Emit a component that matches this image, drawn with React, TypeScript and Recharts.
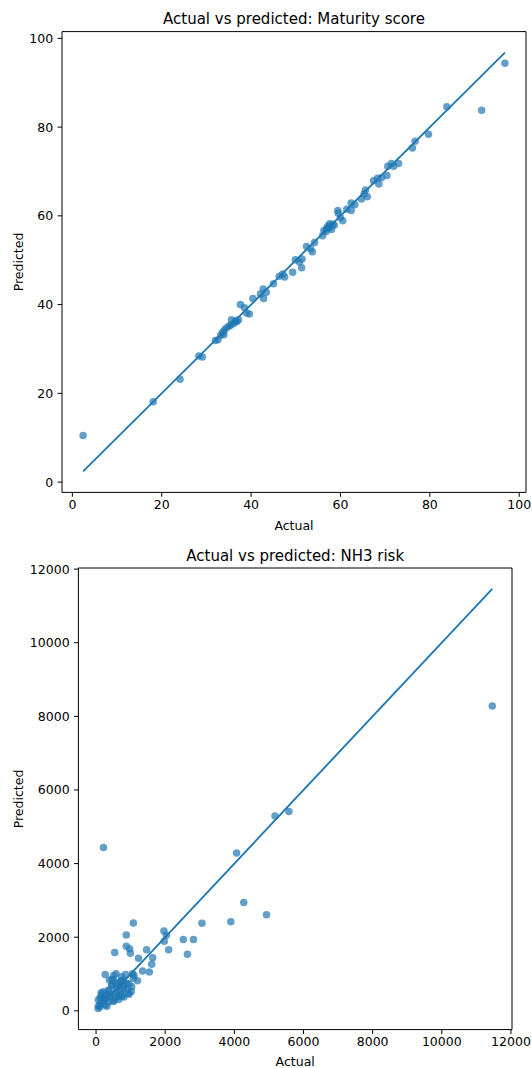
import React from 'react';
import { ScatterChart, Scatter, XAxis, YAxis, ReferenceLine, ReferenceArea } from 'recharts';

// Chart 1: Maturity score
const matActual = [2.4, 18.1, 24.1, 28.3, 29.1, 32.0, 32.6, 33.2, 33.6, 33.9, 34.0, 34.5, 35.1, 35.5, 35.6, 36.2, 36.5, 36.8, 37.2, 37.6, 38.5, 39.0, 39.6, 40.4, 42.1, 42.7, 42.8, 43.4, 45.0, 46.3, 47.1, 47.5, 49.3, 49.9, 50.8, 51.3, 51.4, 52.4, 53.3, 53.7, 54.2, 56.0, 56.3, 56.8, 56.9, 57.2, 57.5, 58.0, 57.6, 58.3, 58.6, 59.4, 59.5, 60.0, 60.5, 61.4, 62.4, 62.4, 63.2, 64.7, 65.3, 65.6, 66.0, 67.4, 68.3, 68.6, 69.2, 70.4, 70.6, 71.4, 71.9, 73.0, 76.1, 76.7, 79.7, 83.8, 91.6, 96.8];
const matPredicted = [10.5, 18.1, 23.2, 28.4, 28.2, 31.9, 32.1, 33.1, 33.7, 33.2, 34.2, 34.8, 35.2, 35.4, 36.6, 35.8, 36.3, 36.2, 36.6, 40.0, 39.3, 38.1, 37.9, 41.4, 42.4, 43.5, 41.4, 42.8, 44.7, 46.4, 46.9, 46.2, 47.3, 50.1, 49.6, 48.3, 50.3, 53.1, 52.6, 51.9, 54.0, 55.5, 56.7, 56.5, 57.2, 57.7, 57.3, 56.9, 58.2, 58.1, 57.9, 61.2, 60.6, 59.6, 58.9, 61.5, 62.9, 61.2, 62.5, 63.8, 65.0, 65.8, 64.3, 67.9, 68.5, 67.2, 68.6, 69.1, 71.2, 71.8, 71.2, 71.8, 75.3, 76.8, 78.4, 84.6, 83.8, 94.4];
const matLine = [2.4, 96.8];
const matTicks = [0, 20, 40, 60, 80, 100];

// Chart 2: NH3 risk
const nh3Actual = [11460, 216, 5175, 5578, 4065, 4272, 4930, 3899, 3064, 2818, 2524, 2642, 1964, 2033, 1974, 2101, 1080, 874, 874, 972, 992, 540, 1463, 1227, 1640, 1610, 1542, 1345, 1198, 265, 579, 511, 854, 1050, 1100, 462, 1021, 953, 707, 147, 118, 69, 60, 314, 167, 265, 412, 560, 520, 658, 756, 609, 383, 462, 677, 805, 903, 285, 216, 363, 805, 736, 579, 953, 118,
  116, 67, 164, 212, 309, 357, 453, 502, 598, 694, 743, 791, 887, 936, 646, 502, 260, 405, 791, 1032, 1080, 550, 386, 212, 743];
const nh3Predicted = [8283, 4435, 5292, 5413, 4286, 2944, 2609, 2422, 2376, 1938, 1938, 1537, 2171, 2050, 1891, 1658, 2385, 2059, 1752, 1686, 1565, 1584, 1658, 1425, 1444, 1267, 1053, 1081, 820, 988, 1006, 960, 988, 1006, 969, 848, 522, 447, 540, 494, 354, 121, 60, 121, 261, 354, 401, 354, 280, 307, 447, 540, 540, 680, 727, 680, 587, 447, 307, 242, 373, 820, 745, 727, 186,
  114, 296, 432, 521, 342, 567, 703, 839, 657, 793, 929, 614, 749, 478, 386, 250, 160, 432, 839, 657, 885, 478, 839, 296, 386];
const nh3Line = [60, 11460];
const nh3Ticks = [0, 2000, 4000, 6000, 8000, 10000, 12000];

const matData = matActual.map((a, i) => ({ x: a, y: matPredicted[i] }));
const nh3Data = nh3Actual.map((a, i) => ({ x: a, y: nh3Predicted[i] }));

const BLUE = '#1f77b4';
const FONT = 'DejaVu Sans, sans-serif';
const TICK_SIZE = 12.5;
const TITLE_SIZE = 15;
const tickStyle = { fontFamily: FONT, fontSize: TICK_SIZE, fill: '#000' };

const Dot = (props: any) => {
  if (props.cx == null || props.cy == null) return null;
  return <circle cx={props.cx} cy={props.cy} r={3.75} fill={BLUE} fillOpacity={0.7} stroke="none" />;
};

type PanelProps = {
  data: { x: number; y: number }[];
  domain: [number, number];
  ticks: number[];
  line: number[];
  margin: { top: number; right: number; bottom: number; left: number };
  yWidth: number;
  top: number;
};

const Panel = ({ data, domain, ticks, line, margin, yWidth, top }: PanelProps) => (
  <div style={{ position: 'absolute', left: 0, top, width: 532, height: 534 }}>
    <ScatterChart width={532} height={534} margin={margin}>
      <XAxis
        type="number"
        dataKey="x"
        domain={domain}
        ticks={ticks}
        allowDataOverflow
        height={30}
        tick={tickStyle}
        tickSize={4.4}
        tickMargin={3.5}
        axisLine={false}
        tickLine={{ stroke: '#000', strokeWidth: 1 }}
      />
      <YAxis
        type="number"
        dataKey="y"
        domain={domain}
        ticks={ticks}
        allowDataOverflow
        width={yWidth}
        tick={tickStyle}
        tickSize={4.4}
        tickMargin={4.4}
        axisLine={false}
        tickLine={{ stroke: '#000', strokeWidth: 1 }}
      />
      <Scatter data={data} shape={Dot} isAnimationActive={false} />
      <ReferenceLine
        segment={[{ x: line[0], y: line[0] }, { x: line[1], y: line[1] }]}
        stroke={BLUE}
        strokeWidth={1.85}
      />
      <ReferenceArea
        x1={domain[0]}
        x2={domain[1]}
        y1={domain[0]}
        y2={domain[1]}
        fill="none"
        fillOpacity={0}
        stroke="#000"
        strokeWidth={1}
        ifOverflow="visible"
      />
    </ScatterChart>
  </div>
);

const Label = ({ x, y, text, size, rotate }: { x: number; y: number; text: string; size: number; rotate?: boolean }) => (
  <text
    x={x}
    y={y}
    textAnchor="middle"
    dominantBaseline="central"
    fontFamily={FONT}
    fontSize={size}
    fill="#000"
    transform={rotate ? `rotate(-90 ${x} ${y})` : undefined}
  >
    {text}
  </text>
);

export default function App() {
  return (
    <div style={{ position: 'absolute', left: 0, top: 0, width: 532, height: 1068, background: '#fff', overflow: 'hidden' }}>
      <Panel
        data={matData}
        domain={[-2.32, 101.52]}
        ticks={matTicks}
        line={matLine}
        margin={{ top: 31.6, right: 6, bottom: 11.6, left: 22 }}
        yWidth={40}
        top={0}
      />
      <Panel
        data={nh3Data}
        domain={[-510, 12030]}
        ticks={nh3Ticks}
        line={nh3Line}
        margin={{ top: 34, right: 20, bottom: 8.4, left: 28.4 }}
        yWidth={50}
        top={534}
      />
      <svg width={532} height={1068} style={{ position: 'absolute', left: 0, top: 0, pointerEvents: 'none' }}>
        <Label x={294} y={18.7} text="Actual vs predicted: Maturity score" size={TITLE_SIZE} />
        <Label x={294} y={525.2} text="Actual" size={TICK_SIZE} />
        <Label x={18.9} y={262} text="Predicted" size={TICK_SIZE} rotate />
        <Label x={295.2} y={555.7} text="Actual vs predicted: NH3 risk" size={TITLE_SIZE} />
        <Label x={295.2} y={1061.8} text="Actual" size={TICK_SIZE} />
        <Label x={18.9} y={799} text="Predicted" size={TICK_SIZE} rotate />
      </svg>
    </div>
  );
}
